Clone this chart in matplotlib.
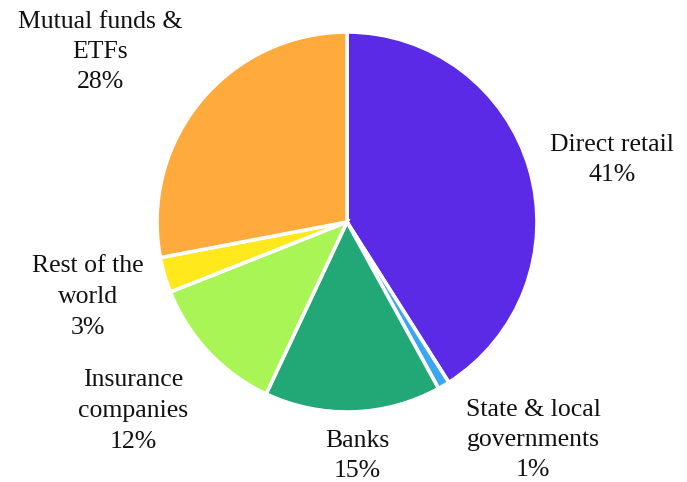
import matplotlib
matplotlib.use('Agg')
import matplotlib.pyplot as plt

# Holders of the debt, clockwise from the top
holders = ['Direct retail', 'State & local\ngovernments', 'Banks',
           'Insurance\ncompanies', 'Rest of the\nworld', 'Mutual funds &\nETFs']
shares = [41, 1, 15, 12, 3, 28]
colors = ['#5a2ae6', '#3aa6f2', '#21a876', '#aaf556', '#ffe81c', '#ffaa3c']

# label centres in pixel coordinates (y measured from the bottom)
label_xy = [(612, 322), (533, 42), (357, 26),
            (133, 71), (88, 185), (100, 430)]

W, H = 687, 482
fig = plt.figure(figsize=(W / 100, H / 100), dpi=100)
ax = fig.add_axes([0, 0, 1, 1])
ax.set_aspect('equal')
ax.axis('off')

ax.pie(shares, colors=colors, startangle=90, counterclock=False,
       center=(347, 260), radius=190,
       wedgeprops=dict(edgecolor='white', linewidth=2.6))
ax.set_xlim(0, W)
ax.set_ylim(0, H)

for name, val, (x, y) in zip(holders, shares, label_xy):
    ax.text(x, y, f'{name}\n{val}%', ha='center', va='center',
            fontsize=18.5, family='Liberation Serif', color='#111111',
            linespacing=1.5)

fig.savefig('out.png', dpi=100)
